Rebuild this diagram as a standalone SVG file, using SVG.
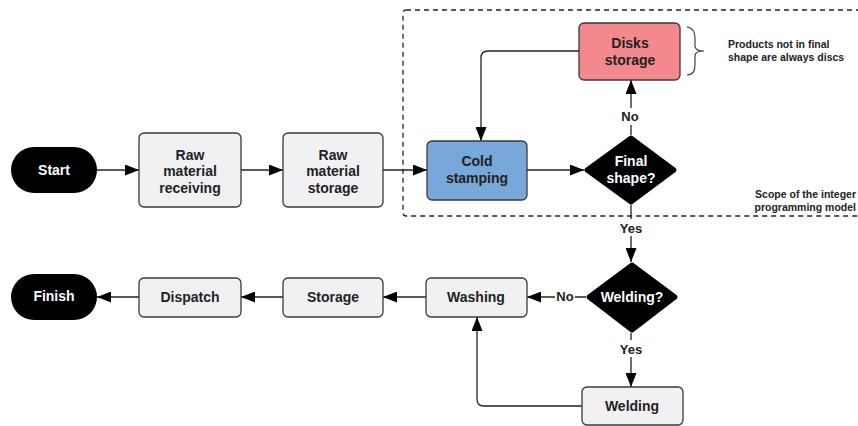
<svg xmlns="http://www.w3.org/2000/svg" width="858" height="426" viewBox="0 0 858 426">
<defs>
<marker id="ah" markerWidth="14" markerHeight="11" refX="14" refY="5.5" orient="auto" markerUnits="userSpaceOnUse">
<path d="M0,0 L14,5.5 L0,11 Z" fill="#000"/>
</marker>
<style>
text{font-family:"Liberation Sans",Arial,sans-serif;font-weight:bold;text-anchor:middle}
.box{fill:#f1f1f4;stroke:#3a3a3a;stroke-width:1.3}
.t{font-size:14px;fill:#222}
.w{font-size:14px;fill:#fff}
.lbl{font-size:13px;fill:#222}
.note{font-size:10.5px;fill:#222;text-anchor:start}
.c{fill:none;stroke:#222;stroke-width:1.3}
.term{fill:#000}
.dia{fill:#000;stroke:#000;stroke-width:5;stroke-linejoin:round}
</style>
</defs>
<rect x="403" y="10" width="460" height="206" rx="3" fill="none" stroke="#222" stroke-width="1.3" stroke-dasharray="5,4"/>
<g id="connectors">
<path class="c" d="M97,170 H139" marker-end="url(#ah)"/>
<path class="c" d="M241,170 H283" marker-end="url(#ah)"/>
<path class="c" d="M383,170 H427" marker-end="url(#ah)"/>
<path class="c" d="M527,170 H584" marker-end="url(#ah)"/>
<path class="c" d="M631,135 V80" marker-end="url(#ah)"/>
<path class="c" d="M579,51 H488 Q481,51 481,58 V141" marker-end="url(#ah)"/>
<path class="c" d="M631,205 V262" marker-end="url(#ah)"/>
<path class="c" d="M586,297 H527" marker-end="url(#ah)"/>
<path class="c" d="M631,333 V387" marker-end="url(#ah)"/>
<path class="c" d="M582,406 H484 Q477,406 477,399 V317" marker-end="url(#ah)"/>
<path class="c" d="M426,297 H383" marker-end="url(#ah)"/>
<path class="c" d="M283,297 H241" marker-end="url(#ah)"/>
<path class="c" d="M139,297 H97" marker-end="url(#ah)"/>
<rect x="620" y="108" width="22" height="17" fill="#fff"/>
<text class="lbl" x="630" y="121">No</text>
<rect x="617" y="219" width="28" height="17" fill="#fff"/>
<text class="lbl" x="631" y="233">Yes</text>
<rect x="555" y="288" width="20" height="17" fill="#fff"/>
<text class="lbl" x="565" y="301">No</text>
<rect x="617" y="340" width="28" height="17" fill="#fff"/>
<text class="lbl" x="631" y="354">Yes</text>
</g>
<g id="start">
<rect class="term" x="11" y="147" width="86" height="46" rx="23"/>
<text class="w" x="54" y="175">Start</text>
</g>
<g id="raw-receiving">
<rect class="box" x="139" y="133" width="102" height="74" rx="5"/>
<text class="t" x="190" y="160">Raw</text>
<text class="t" x="190" y="176">material</text>
<text class="t" x="190" y="193">receiving</text>
</g>
<g id="raw-storage">
<rect class="box" x="283" y="133" width="100" height="74" rx="5"/>
<text class="t" x="333" y="160">Raw</text>
<text class="t" x="333" y="176">material</text>
<text class="t" x="333" y="193">storage</text>
</g>
<g id="cold-stamping">
<rect class="box" style="fill:#78a7da" x="427" y="141" width="100" height="59" rx="5"/>
<text class="t" x="477" y="166">Cold</text>
<text class="t" x="477" y="183">stamping</text>
</g>
<g id="final-shape">
<path class="dia" d="M631,138 L674,170 L631,202 L587,170 Z"/>
<text class="w" x="631" y="166">Final</text>
<text class="w" x="631" y="183">shape?</text>
</g>
<g id="disks-storage">
<rect class="box" style="fill:#f3898d" x="579" y="23" width="101" height="57" rx="5"/>
<text class="t" x="630" y="48">Disks</text>
<text class="t" x="630" y="65">storage</text>
</g>
<g id="note">
<path d="M687,27 Q695,28 695,38 V46 Q695,51 704,51 Q695,51 695,56 V65 Q695,75 687,75" fill="none" stroke="#333" stroke-width="1.1"/>
<text class="note" x="728" y="48">Products not in final</text>
<text class="note" x="728" y="61">shape are always discs</text>
<text class="note" x="856" y="198" style="text-anchor:end">Scope of the integer</text>
<text class="note" x="856" y="211" style="text-anchor:end">programming model</text>
</g>
<g id="welding-q">
<path class="dia" d="M632,265 L675,297 L632,330 L589,297 Z"/>
<text class="w" x="632" y="302">Welding?</text>
</g>
<g id="welding">
<rect class="box" x="582" y="387" width="101" height="38" rx="5"/>
<text class="t" x="632" y="411">Welding</text>
</g>
<g id="washing">
<rect class="box" x="426" y="278" width="101" height="39" rx="5"/>
<text class="t" x="476" y="302">Washing</text>
</g>
<g id="storage">
<rect class="box" x="283" y="278" width="100" height="39" rx="5"/>
<text class="t" x="333" y="302">Storage</text>
</g>
<g id="dispatch">
<rect class="box" x="139" y="278" width="102" height="39" rx="5"/>
<text class="t" x="190" y="302">Dispatch</text>
</g>
<g id="finish">
<rect class="term" x="11" y="274" width="86" height="46" rx="23"/>
<text class="w" x="54" y="301">Finish</text>
</g>
</svg>
